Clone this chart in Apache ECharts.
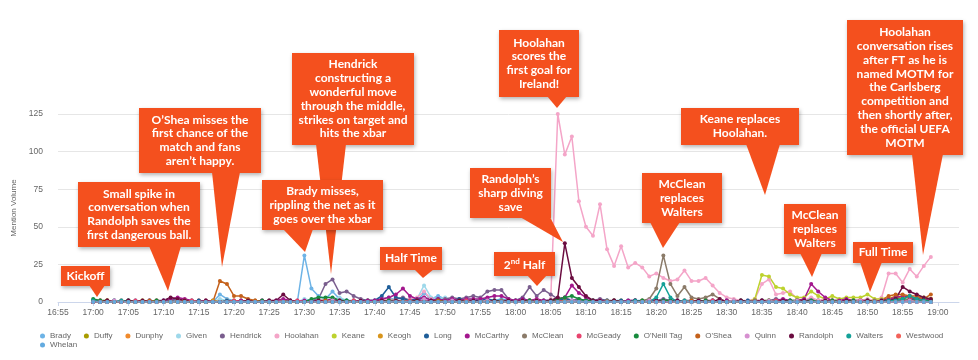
<!DOCTYPE html>
<html><head><meta charset="utf-8">
<script src="https://cdn.jsdelivr.net/npm/echarts@6/dist/echarts.min.js"></script>
<style>html,body{margin:0;padding:0;background:#fff}#c{width:978px;height:360px}</style>
</head><body><div id="c"></div>
<script>
// x: one point per minute, 17:00 .. 18:59
const startLabel = '17:00';
const tickLabels = ['16:55','17:00','17:05','17:10','17:15','17:20','17:25','17:30','17:35','17:40','17:45','17:50','17:55','18:00','18:05','18:10','18:15','18:20','18:25','18:30','18:35','18:40','18:45','18:50','18:55','19:00'];
const players = ['Brady','Duffy','Dunphy','Given','Hendrick','Hoolahan','Keane','Keogh','Long','McCarthy','McClean','McGeady',"O'Neill Tag","O'Shea",'Quinn','Randolph','Walters','Westwood','Whelan'];

const brady = [1,1,0,1,0,0,1,0,1,0, 1,1,0,1,0,0,0,0,5,2, 1,0,0,1,0,0,1,0,0,0, 31,9,4,2,7,2,1,1,0,0, 1,2,3,1,1,2,1,6,2,4, 2,1,1,2,1,0,1,1,2,1, 1,2,1,1,0,1,1,2,1,1, 0,1,1,0,1,1,0,1,1,0, 1,0,1,1,0,1,0,0,1,0, 0,1,0,1,0,1,1,0,0,1, 0,1,0,1,0,0,1,0,1,0, 0,1,1,0,1,1,2,1,1,0];
const duffy = [0,1,0,0,1,0,0,1,0,0, 0,0,1,0,0,0,1,0,0,0, 0,1,0,0,0,0,0,1,0,0, 0,0,1,1,0,0,0,1,0,0, 0,1,0,0,1,0,0,1,0,0, 1,0,0,1,0,0,1,0,0,1, 0,0,1,0,0,1,0,1,0,0, 0,1,0,0,0,1,0,0,1,0, 1,0,0,0,1,0,0,1,0,0, 0,0,1,0,0,1,1,0,1,0, 0,1,0,0,1,0,1,0,0,1, 1,0,1,2,1,1,2,1,0,1];
const dunphy = [0,0,1,0,0,1,0,0,0,1, 0,1,0,0,0,1,0,0,0,1, 0,0,0,1,0,0,0,1,0,0, 0,0,0,1,0,0,0,0,1,0, 0,0,1,0,0,0,1,0,0,0, 0,1,0,0,0,0,1,0,0,0, 1,0,0,0,1,0,0,1,0,0, 0,0,1,0,0,0,0,1,0,0, 0,1,0,0,0,1,0,0,0,0, 1,0,0,0,0,1,0,0,1,0, 0,0,0,1,0,0,0,1,0,0, 0,0,1,0,0,1,0,0,1,0];
const given = [1,0,0,1,0,0,0,1,0,0, 1,0,0,0,1,0,0,0,2,1, 0,0,1,0,0,0,0,0,1,0, 2,1,1,1,2,3,1,0,0,1, 0,1,2,1,0,1,2,11,3,2, 3,1,1,1,2,1,0,1,1,0, 0,1,1,0,1,0,0,1,0,0, 1,0,0,1,0,0,1,0,0,1, 0,0,1,0,0,1,0,0,0,1, 0,0,1,0,0,1,0,1,0,0, 1,0,0,1,0,0,1,0,0,0, 1,0,0,1,0,1,0,0,1,0];
const hendrick = [0,1,0,0,1,0,1,0,0,1, 1,2,1,1,0,1,0,1,0,0, 0,1,0,0,1,0,0,1,0,1, 0,1,2,12,15,6,7,4,2,1, 1,2,1,2,3,1,2,3,2,1, 2,3,2,3,4,3,7,8,8,2, 1,3,10,4,8,5,2,3,1,2, 1,1,2,1,1,0,1,1,0,1, 1,2,1,0,1,1,0,1,0,1, 0,1,1,0,1,0,1,2,1,0, 1,1,2,1,0,1,1,0,1,1, 0,1,1,2,1,1,2,1,1,0];
const hoolahan = [0,0,0,0,1,0,0,0,0,0, 0,0,1,0,0,0,0,0,0,0, 0,0,0,0,0,0,1,0,0,0, 0,0,1,0,0,1,0,0,0,0, 0,1,2,1,1,2,3,7,2,1, 1,1,0,1,1,0,1,1,0,1, 0,1,1,1,0,2,125,98,110,67, 50,44,65,35,24,37,23,26,23,17, 19,16,14,15,21,14,14,16,11,6, 3,2,1,1,2,12,15,5,6,7, 2,1,3,1,2,1,1,0,1,1, 2,1,3,19,19,13,22,17,24,30];
const keane = [0,0,0,0,0,0,0,0,0,0, 0,0,0,1,0,0,0,0,0,0, 0,0,0,0,0,0,0,0,0,0, 0,0,0,0,1,0,0,0,0,0, 0,0,0,0,0,0,0,1,0,0, 0,0,0,0,0,0,0,0,0,0, 0,0,0,0,0,0,0,0,0,0, 0,0,0,0,0,0,0,0,0,0, 0,0,0,0,0,0,0,0,0,0, 0,0,0,0,2,18,17,10,9,5, 3,3,7,4,2,4,2,3,3,3, 5,2,2,3,2,4,3,2,3,2];
const keogh = [0,0,1,0,0,0,0,1,0,0, 0,1,0,0,0,0,0,1,0,0, 1,0,0,0,0,1,0,0,0,0, 0,0,0,1,0,0,0,0,0,1, 0,0,0,0,1,0,0,0,0,0, 1,0,0,0,0,1,0,0,0,0, 0,0,1,0,0,0,0,1,0,0, 0,0,0,0,1,0,0,0,0,0, 0,0,0,1,0,0,0,0,1,0, 0,0,0,0,0,0,1,0,0,0, 1,0,0,0,0,1,0,0,0,0, 0,1,0,2,4,3,3,2,1,2];
const long = [1,0,0,1,0,1,0,0,1,0, 0,1,1,0,0,1,0,0,0,1, 0,0,1,0,0,1,0,0,1,0, 0,1,0,0,1,0,1,0,1,1, 1,4,10,3,2,1,2,1,1,2, 1,1,2,1,1,1,2,1,1,1, 1,2,1,0,1,1,1,2,1,0, 1,0,1,1,0,1,0,1,0,1, 0,1,0,1,0,0,1,0,1,0, 1,0,0,1,0,1,0,0,1,1, 0,1,1,0,1,0,0,1,0,0, 1,0,1,1,2,1,1,2,1,1];
const mccarthy = [0,0,1,0,0,1,0,0,1,0, 1,2,3,2,1,0,1,0,0,0, 0,1,0,0,1,0,1,2,1,0, 1,0,1,1,2,1,0,1,0,1, 1,2,3,5,9,4,2,3,1,2, 1,2,1,2,2,2,3,4,4,2, 1,2,1,2,1,1,2,3,11,6, 3,1,1,0,1,0,1,1,0,1, 1,0,1,1,0,1,0,1,1,0, 1,0,1,0,1,1,0,1,2,1, 1,2,12,7,3,1,1,2,1,1, 1,0,1,2,3,4,3,2,2,1];
const mcclean = [0,0,0,1,0,0,0,0,0,1, 0,0,0,0,1,0,0,0,0,0, 0,0,1,0,0,0,0,0,1,0, 0,0,0,0,1,0,0,0,0,0, 0,0,1,0,0,0,0,1,0,0, 0,0,0,1,0,0,0,0,1,0, 0,0,1,0,0,0,0,1,0,0, 0,0,0,1,0,0,0,0,1,2, 9,31,12,4,10,3,2,3,5,2, 0,1,0,0,1,0,0,1,0,0, 1,0,1,0,0,1,0,0,1,0, 0,1,0,1,0,2,1,1,0,1];
const mcgeady = [0,1,0,0,0,0,1,0,0,0, 0,0,0,0,1,0,0,0,0,0, 1,0,0,0,0,0,0,0,0,1, 0,0,0,0,0,0,0,1,0,0, 0,0,0,0,0,1,0,0,0,0, 0,0,0,1,0,0,0,0,0,0, 0,0,0,0,0,0,1,0,0,0, 0,0,0,0,1,0,0,0,0,0, 0,0,0,0,0,0,0,0,1,0, 0,0,0,0,0,0,0,1,0,0, 0,0,0,0,0,0,0,0,0,1, 0,0,0,0,0,1,0,0,0,0];
const oneill = [2,1,1,0,0,1,0,0,0,1, 0,0,1,0,0,0,0,0,0,0, 0,0,0,0,1,0,0,0,0,0, 0,2,3,3,3,1,1,0,0,0, 0,0,1,1,0,0,1,0,0,1, 0,0,1,0,0,0,0,1,0,0, 0,0,1,0,0,1,2,3,4,2, 1,1,0,0,1,0,0,0,1,0, 0,1,1,0,0,0,0,1,0,0, 0,0,1,0,0,0,1,0,0,1, 1,0,1,0,0,1,0,0,1,0, 1,0,1,0,2,2,4,2,1,1];
const oshea = [0,0,1,0,0,0,0,0,1,0, 0,0,0,1,0,0,0,0,14,12, 4,4,2,1,0,0,0,0,0,0, 0,0,0,1,0,0,0,0,0,0, 0,0,0,0,0,0,0,0,0,1, 0,0,0,0,0,0,0,0,0,0, 0,0,0,0,0,0,0,0,0,0, 0,0,0,0,0,0,0,0,0,0, 0,0,0,0,0,1,0,0,0,0, 0,0,0,0,0,0,0,0,0,0, 0,0,0,0,0,0,0,0,0,0, 0,0,1,4,5,5,4,4,2,5];
const quinn = [0,0,0,1,0,0,0,0,0,0, 0,0,1,0,0,0,1,0,0,0, 0,0,0,0,0,1,0,0,0,0, 0,0,0,0,1,0,0,0,1,0, 0,0,0,1,0,0,0,2,0,0, 0,1,0,0,0,0,1,0,0,0, 0,0,0,1,0,0,0,0,1,0, 0,0,1,0,0,0,0,0,0,1, 0,0,0,0,1,0,0,0,0,0, 0,1,0,0,0,0,1,0,0,0, 1,0,0,0,1,0,0,0,0,1, 0,0,1,0,0,0,1,0,0,0];
const randolph = [0,0,1,0,0,1,0,1,0,0, 1,3,2,1,0,0,1,0,0,0, 0,0,1,0,0,1,1,5,1,0, 0,0,1,0,0,1,0,0,1,0, 0,1,0,1,0,0,1,0,1,0, 0,0,1,0,1,0,0,1,0,1, 0,1,0,1,0,1,3,39,16,10, 4,1,1,0,1,0,0,1,0,0, 1,0,0,1,0,0,1,0,0,2, 0,0,1,0,0,1,0,0,1,0, 0,1,0,0,1,0,0,1,0,0, 1,0,1,1,2,10,7,5,3,2];
const walters = [1,0,0,0,1,0,0,0,0,0, 0,0,0,0,0,0,0,0,0,0, 0,0,0,0,0,0,0,0,0,0, 0,0,0,0,0,0,0,0,0,0, 0,0,0,0,0,0,0,0,0,0, 0,0,0,0,0,0,0,0,0,0, 0,0,0,0,0,0,0,0,0,0, 0,0,0,0,0,0,0,1,0,0, 3,12,3,0,1,0,0,0,0,0, 0,0,0,0,0,0,0,0,0,0, 0,0,0,0,0,0,0,0,0,0, 0,0,0,1,1,2,4,2,1,0];
const westwood = [0,0,0,0,0,0,0,0,0,0, 0,0,0,0,0,0,0,0,0,0, 0,0,0,0,0,0,0,0,0,0, 0,0,0,0,0,0,0,0,0,0, 0,0,0,0,0,0,0,0,0,0, 0,0,0,0,0,0,0,0,0,0, 0,0,0,0,0,0,0,0,0,0, 0,0,0,0,0,0,0,0,0,0, 0,0,0,0,0,0,0,0,0,0, 0,0,0,0,0,0,0,0,0,0, 0,0,0,0,0,0,0,0,0,0, 0,0,0,0,0,0,0,0,0,0];
const whelan = [0,0,0,0,0,0,0,0,0,0, 0,0,0,0,0,0,0,0,0,0, 0,0,0,0,0,0,0,0,0,0, 0,0,0,0,0,0,0,0,0,0, 0,0,0,0,0,0,0,0,0,0, 0,0,0,0,0,0,0,0,0,0, 0,0,0,0,0,0,0,0,0,0, 0,0,0,0,0,0,0,0,0,0, 0,0,0,0,0,0,0,0,0,0, 0,0,0,0,0,0,0,0,0,0, 0,0,0,0,0,0,0,0,0,0, 0,0,0,0,0,0,0,0,0,0];

const seriesValues = [brady,duffy,dunphy,given,hendrick,hoolahan,keane,keogh,long,mccarthy,mcclean,mcgeady,oneill,oshea,quinn,randolph,walters,westwood,whelan];
const colors = ['#6db3e6','#a89c00','#f08a2c','#9ed8ea','#7a5e8e','#f4a5c8','#bdd22e','#d8951c','#1f5e99','#a3178d','#8b7b69','#e8436e','#178b3d','#c4611b','#d690d0','#6b0c40','#14a198','#f2625a','#63abe0'];

const callouts = [
  {lines:['Kickoff'], box:[61,266,49,20], base:[89,105], tip:[97,297]},
  {lines:['Small spike in','conversation when','Randolph saves the','first dangerous ball.'], box:[78,182,122,65], base:[149,181], tip:[168,291]},
  {lines:['O\u2019Shea misses the','first chance of the','match and fans','aren\u2019t happy.'], box:[139,108,122,65], base:[212,240], tip:[222,267]},
  {lines:['Hendrick','constructing a','wonderful move','through the middle,','strikes on target and','hits the xbar'], box:[292,53,122,92], base:[316,346], tip:[331,274]},
  {lines:['Brady misses,','rippling the net as it','goes over the xbar'], box:[262,180,121,50], base:[283,313], tip:[305,252]},
  {lines:['Half Time'], box:[380,247,62,23], base:[414,434], tip:[423,278]},
  {rich:'{a|2}{s|nd}{a| Half}', box:[494,252,61,24], base:[527,547], tip:[537,286]},
  {lines:['Randolph\u2019s','sharp diving','save'], box:[470,168,81,50], base:[520,550], tip:[563,242]},
  {lines:['Hoolahan','scores the','first goal for','Ireland!'], box:[499,30,80,67], base:[547,567], tip:[557,108]},
  {lines:['McClean','replaces','Walters'], box:[642,173,80,50], base:[650,680], tip:[663,248]},
  {lines:['Keane replaces','Hoolahan.'], box:[681,108,118,37], base:[746,780], tip:[765,195]},
  {lines:['McClean','replaces','Walters'], box:[784,204,62,50], base:[800,822], tip:[812,277]},
  {lines:['Full Time'], box:[853,242,60,21], base:[860,882], tip:[870,292]},
  {lines:['Hoolahan','conversation rises','after FT as he is','named MOTM for','the Carlsberg','competition and','then shortly after,','the official UEFA','MOTM'], box:[847,20,116,135], base:[912,943], tip:[923,255]}
];

const toMin = s => parseInt(s.split(':')[0]) * 60 + parseInt(s.split(':')[1]);
const startMinute = toMin(startLabel);
const tickMinutes = tickLabels.map(toMin);
const labelOf = v => { const i = tickMinutes.indexOf(v); return i >= 0 ? tickLabels[i] : ''; };

const CALL = '#f4501e';
const FONT = 'bold 12px Lato';
const graphics = [];
callouts.forEach(c => {
  const [x, y, w, h] = c.box;
  graphics.push({type:'rect', z:100, silent:true, shape:{x, y, width:w, height:h},
    style:{fill:CALL, shadowBlur:4, shadowColor:'rgba(0,0,0,0.3)', shadowOffsetX:1, shadowOffsetY:2}});
  graphics.push({type:'polygon', z:100, silent:true, shape:{points:[[c.base[0], y + h - 1],[c.base[1], y + h - 1],[c.tip[0], c.tip[1]]]},
    style:{fill:CALL}});
  if (c.rich) {
    graphics.push({type:'text', z:101, silent:true, style:{text:c.rich, x:x + w/2, y:y + h/2, align:'center', verticalAlign:'middle',
      rich:{a:{font:FONT, fill:'#fff', lineHeight:14, verticalAlign:'bottom'}, s:{font:'bold 8px Lato', fill:'#fff', lineHeight:14, verticalAlign:'top'}}}});
  } else {
    graphics.push({type:'text', z:101, silent:true, style:{text:c.lines.join('\n'), x:x + w/2, y:y + h/2, align:'center', verticalAlign:'middle',
      font:FONT, fill:'#fff', lineHeight:13.8}});
  }
});

const series = players.map((name, i) => ({
  name, type:'line', symbol:'circle', symbolSize:4, showAllSymbol:true,
  data: seriesValues[i].map((v, k) => [startMinute + k, v]),
  lineStyle:{width:1.5, color:colors[i]}, itemStyle:{color:colors[i]},
  emphasis:{disabled:true}, z:2
}));

const legendText = {color:'#666', fontSize:8, fontFamily:'Liberation Sans'};
const chart = echarts.init(document.getElementById('c'), null, {renderer:'canvas'});
chart.setOption({
  animation:false,
  backgroundColor:'#fff',
  color:colors,
  grid:{left:58, right:19, top:114, bottom:58},
  xAxis:{type:'value', min:tickMinutes[0], max:tickMinutes[tickMinutes.length-1] + 3,
    axisLine:{lineStyle:{color:'#ccd6eb'}},
    axisTick:{show:true, length:4, lineStyle:{color:'#ccd6eb'}, customValues:tickMinutes},
    axisLabel:{customValues:tickMinutes, formatter:v => labelOf(v), color:'#666', fontSize:8.5, margin:6, fontFamily:'Liberation Sans'},
    splitLine:{show:false}},
  yAxis:{type:'value', min:0, max:125, interval:25,
    name:'Mention Volume', nameLocation:'middle', nameGap:38, nameRotate:90,
    nameTextStyle:{color:'#666', fontSize:8, fontFamily:'Liberation Sans'},
    axisLine:{show:false}, axisTick:{show:false},
    axisLabel:{color:'#666', fontSize:8.5, margin:15, fontFamily:'Liberation Sans'},
    splitLine:{lineStyle:{color:'#e6e6e6'}}},
  legend:[
    {data:players.slice(0, players.length - 1), left:40, top:332, width:935, icon:'circle', itemWidth:5, itemHeight:5, itemGap:13, padding:0,
      textStyle:legendText},
    {data:players.slice(players.length - 1), left:40, top:341, icon:'circle', itemWidth:5, itemHeight:5, itemGap:13, padding:0,
      textStyle:legendText}
  ],
  series,
  graphic:graphics
});
</script></body></html>
